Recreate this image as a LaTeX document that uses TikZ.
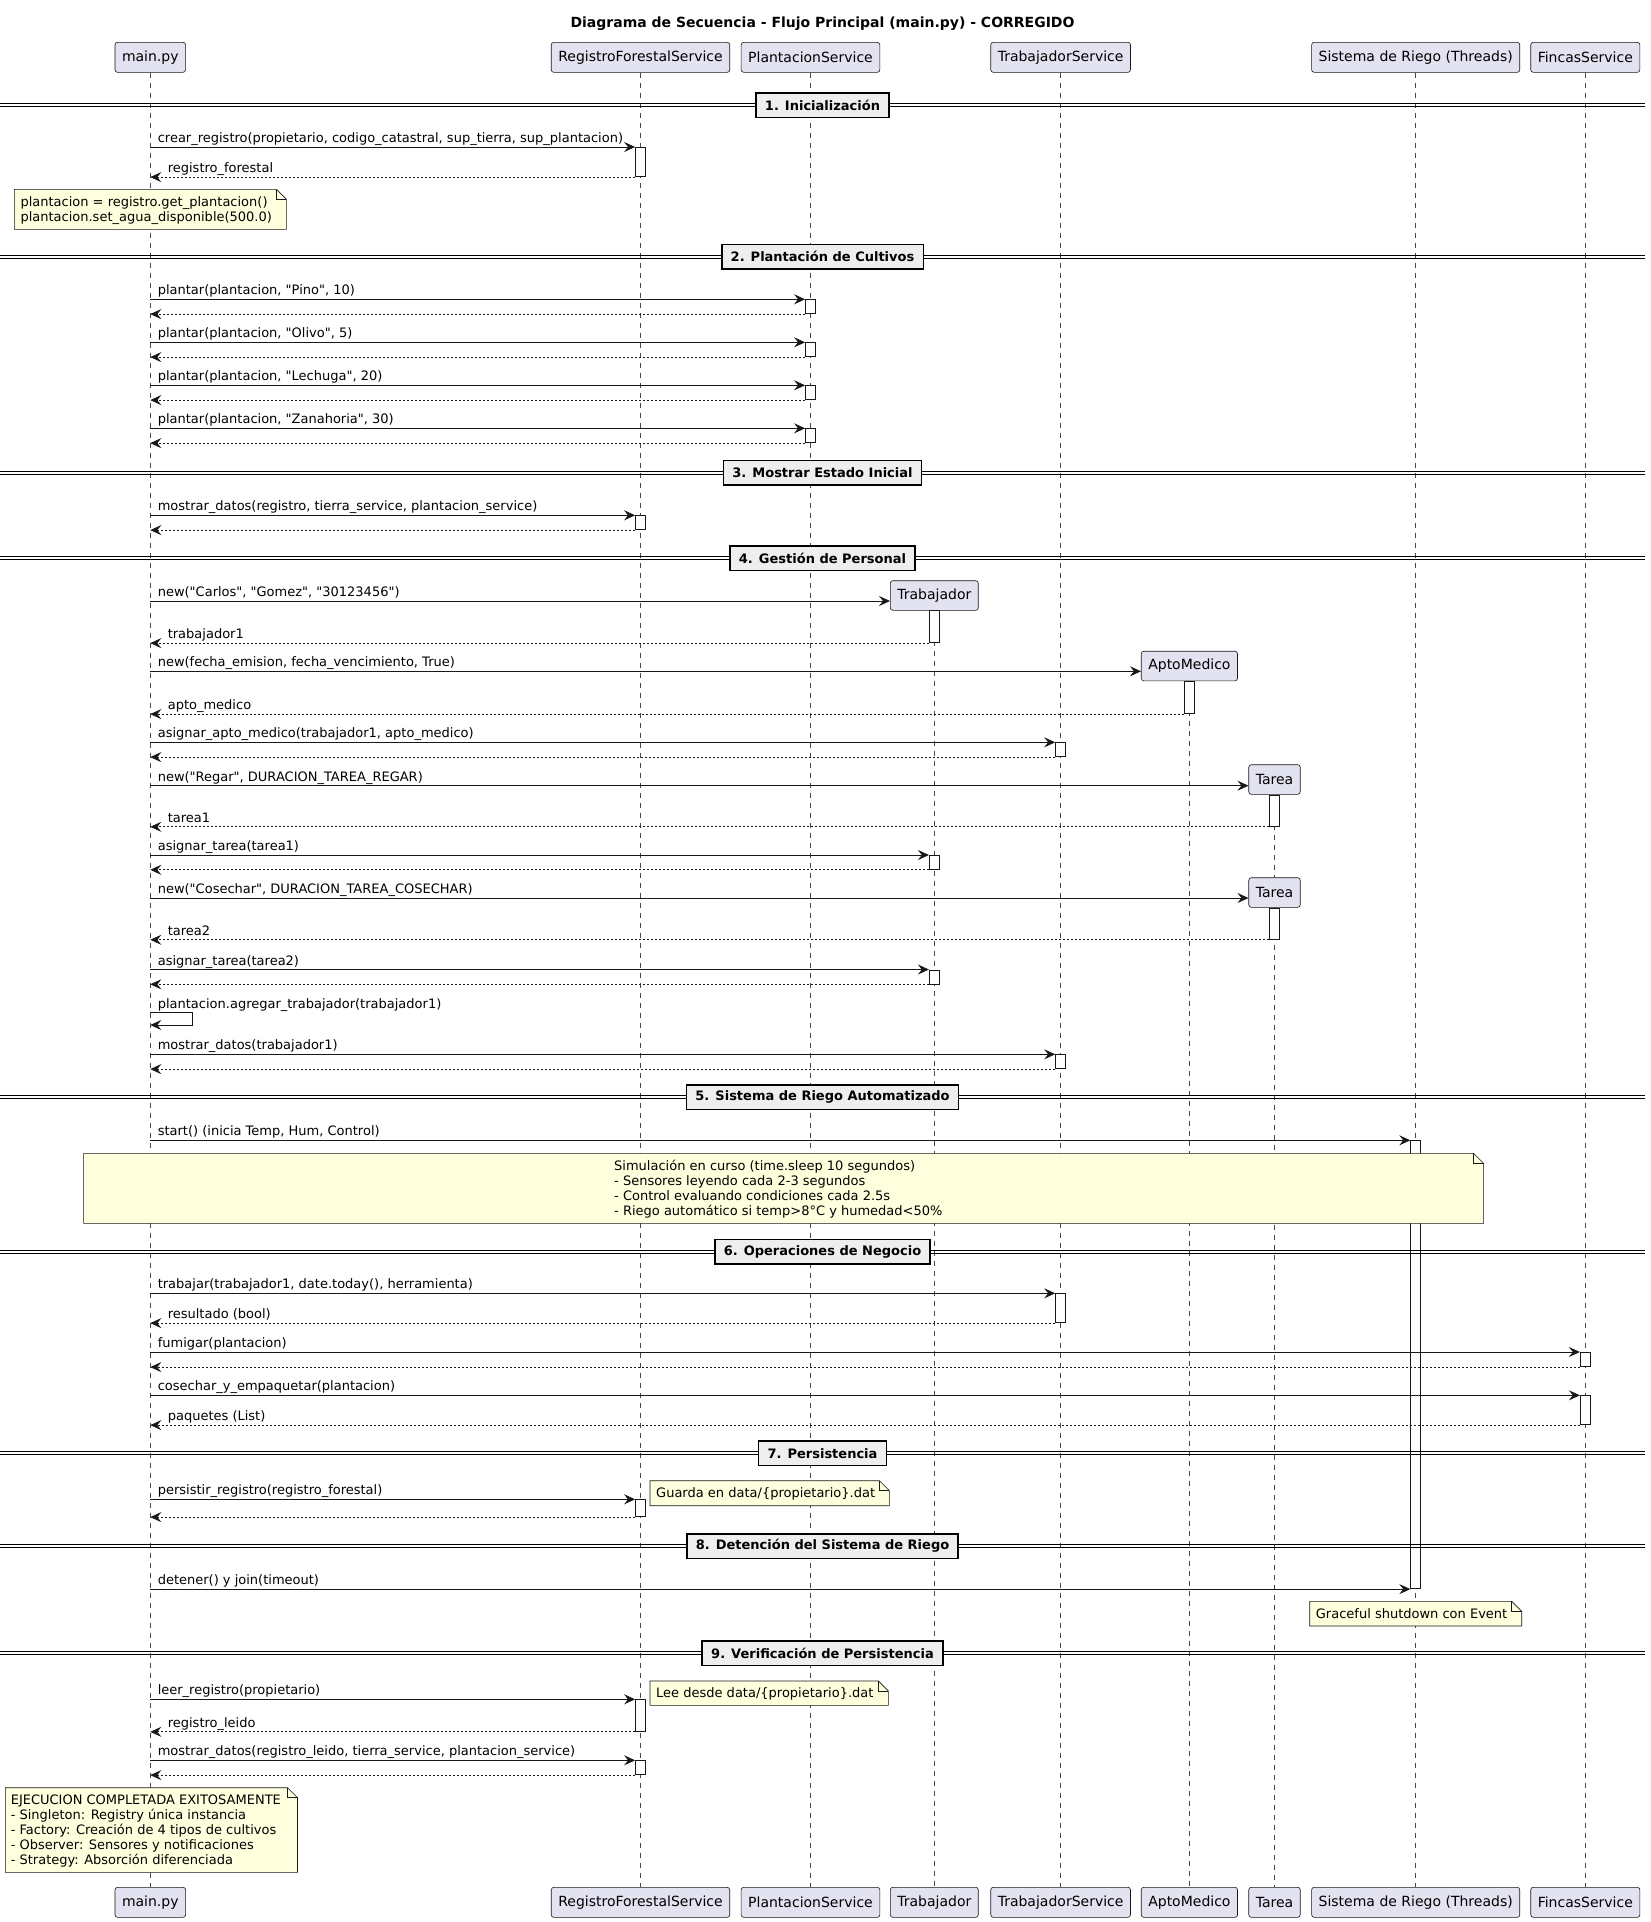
\documentclass[tikz,border=0pt]{standalone}
\usepackage{fontspec}
\setmainfont{DejaVu Sans}[Ligatures=TeXOff]
\usetikzlibrary{arrows.meta}
\definecolor{cdark}{HTML}{181818}
\definecolor{partfill}{HTML}{E2E2F0}
\definecolor{notefill}{HTML}{FEFFDD}
\definecolor{sepfill}{HTML}{EEEEEE}
\tikzset{
  part/.style={draw=cdark, fill=partfill, rounded corners=2.5pt, line width=0.6pt, minimum height=30pt, inner xsep=7pt, inner ysep=0pt, font=\fontsize{14}{16}\selectfont},
  life/.style={draw=cdark!80, line width=0.5pt, dash pattern=on 5pt off 5pt},
  actv/.style={draw=cdark, fill=white, line width=0.8pt, minimum width=10pt, inner sep=0pt, anchor=north},
  call/.style={draw=cdark, line width=1pt, -{Stealth[length=11pt,width=10pt,inset=4pt,line width=0.8pt]}},
  ret/.style={call, dash pattern=on 2pt off 2pt},
  lbl/.style={font=\fontsize{13}{15}\selectfont, inner sep=0pt, anchor=base west},
  sepline/.style={draw=black, line width=1pt},
  sepbox/.style={draw=black, line width=1.6pt, fill=sepfill, font=\bfseries\fontsize{13}{15}\selectfont, minimum height=24.6pt, inner xsep=9pt, inner ysep=0pt},
  notest/.style={draw=cdark, fill=notefill, line width=0.6pt},
}
\newcommand\seqsep[3]{%
  \draw[sepline] (0,#2-1.65) -- (1645,#2-1.65);
  \draw[sepline] (0,#2+1.65) -- (1645,#2+1.65);
  \node[sepbox] (#1) at (822.5,#2) {#3};}
\newcommand\actbox[4]{\node[actv, minimum height={(#4-#3)*1pt}] (#1) at (#2,#3) {};}
\newcommand\seqcall[3]{\draw[call] (#2 |- #1.north west) -- node[lbl,pos=0,xshift=7pt,yshift=4.5pt]{#3} (#1.north west);}
\newcommand\seqret[3]{\draw[ret] (#1.south west) -- node[lbl,pos=1,xshift=17pt,yshift=4.5pt]{#3} (#2 |- #1.south west);}
\newcommand\notebox[4]{%
  \filldraw[notest] (#1,#2) -- (#3-10,#2) -- (#3,#2+10) -- (#3,#4) -- (#1,#4) -- cycle;
  \draw[notest, fill=none] (#3-10,#2) -- (#3-10,#2+10) -- (#3,#2+10);}
\begin{document}
\begin{tikzpicture}[x=1pt, y=-1pt]
\useasboundingbox[fill=white] (0,0) rectangle (1651,1922);
% lifeline coordinates
\coordinate (main) at (150.3,0);
\coordinate (rfs) at (640.5,0);
% title
\node[font=\bfseries\fontsize{14}{16}\selectfont] (title) at (822.5,23.3) {Diagrama de Secuencia - Flujo Principal (main.py) - CORREGIDO};
% participant boxes (top)
\node[part] (tmain) at (150.3,57.3) {main.py};
\node[part] (trfs) at (640.5,57.3) {RegistroForestalService};
\node[part] (tps) at (810.5,57.3) {PlantacionService};
\node[part] (tts) at (1060.6,57.3) {TrabajadorService};
\node[part] (triego) at (1415.7,57.3) {Sistema de Riego (Threads)};
\node[part] (tfin) at (1585.3,57.3) {FincasService};
% participant boxes (bottom)
\node[part] (bmain) at (150.3,1902.3) {main.py};
\node[part] (brfs) at (640.5,1902.3) {RegistroForestalService};
\node[part] (bps) at (810.5,1902.3) {PlantacionService};
\node[part] (btrab) at (934.3,1902.3) {Trabajador};
\node[part] (bts) at (1060.6,1902.3) {TrabajadorService};
\node[part] (bapto) at (1189.4,1902.3) {AptoMedico};
\node[part] (btarea) at (1274.5,1902.3) {Tarea};
\node[part] (briego) at (1415.7,1902.3) {Sistema de Riego (Threads)};
\node[part] (bfin) at (1585.3,1902.3) {FincasService};
% created participants
\node[part, minimum height=29.6pt] (ctrab) at (934.3,595.5) {Trabajador};
\node[part, minimum height=29.6pt] (capto) at (1189.4,666) {AptoMedico};
\node[part, minimum height=29.6pt] (ctarea1) at (1274.5,779.5) {Tarea};
% lifelines
\draw[life] (tmain.south) -- (bmain.north);
\draw[life] (trfs.south) -- (brfs.north);
\draw[life] (tps.south) -- (bps.north);
\draw[life] (ctrab.south) -- (btrab.north);
\draw[life] (tts.south) -- (bts.north);
\draw[life] (capto.south) -- (bapto.north);
\draw[life] (ctarea1.south) -- (btarea.north);
\draw[life] (triego.south) -- (briego.north);
\draw[life] (tfin.south) -- (bfin.north);
\node[part, minimum height=29.6pt] (ctarea2) at (1274.5,892.5) {Tarea};
% activations
\actbox{aRFS1}{640.5}{147}{176.3}
\actbox{aPS1}{810.5}{299.3}{313.3}
\actbox{aPS2}{810.5}{342.3}{356.3}
\actbox{aPS3}{810.5}{385.3}{399.3}
\actbox{aPS4}{810.5}{428.3}{442.3}
\actbox{aRFS2}{640.5}{515.3}{529.3}
\actbox{aTrab1}{934.3}{610.3}{642.3}
\actbox{aApto1}{1189.4}{681.3}{713.3}
\actbox{aTS1}{1060.6}{742.3}{756.3}
\actbox{aTarea1}{1274.5}{794.7}{826}
\actbox{aTrab2}{934.3}{855}{869}
\actbox{aTarea2}{1274.5}{907.5}{939}
\actbox{aTrab3}{934.3}{969.5}{983.5}
\actbox{aTS2}{1060.6}{1054.3}{1068.3}
\actbox{aRiego}{1415.7}{1140.3}{1588.3}
\actbox{aTS3}{1060.6}{1293.3}{1322.3}
\actbox{aF1}{1585.3}{1352}{1366.3}
\actbox{aF2}{1585.3}{1395.3}{1424.3}
\actbox{aRFS3}{640.5}{1499.3}{1516.3}
\actbox{aRFS4}{640.5}{1699.3}{1731}
\actbox{aRFS5}{640.5}{1760.3}{1774.3}
% separators
\seqsep{s1}{105.3}{1. Inicialización}
\seqsep{s2}{256.7}{2. Plantación de Cultivos}
\seqsep{s3}{472.7}{3. Mostrar Estado Inicial}
\seqsep{s4}{558.3}{4. Gestión de Personal}
\seqsep{s5}{1097.3}{5. Sistema de Riego Automatizado}
\seqsep{s6}{1251.7}{6. Operaciones de Negocio}
\seqsep{s7}{1453.3}{7. Persistencia}
\seqsep{s8}{1546}{8. Detención del Sistema de Riego}
\seqsep{s9}{1653.3}{9. Verificación de Persistencia}
% notes
\notebox{14.3}{189.3}{286.4}{229.3}
\node[lbl] (n1a) at (20.3,206.5) {plantacion = registro.get\_plantacion()};
\node[lbl] (n1b) at (20.3,221.5) {plantacion.set\_agua\_disponible(500.0)};
\notebox{83.6}{1153.3}{1483.6}{1223.3}
\node[lbl] (n2a) at (614,1170.9) {Simulación en curso (time.sleep 10 segundos)};
\node[lbl] (n2b) at (614,1185.9) {- Sensores leyendo cada 2-3 segundos};
\node[lbl] (n2c) at (614,1200.9) {- Control evaluando condiciones cada 2.5s};
\node[lbl] (n2d) at (614,1215.9) {- Riego automático si temp>8°C y humedad<50\%};
\notebox{650}{1480.7}{889.4}{1505.7}
\node[lbl] (n3a) at (656,1497.5) {Guarda en data/\{propietario\}.dat};
\notebox{1309.7}{1601.3}{1521.7}{1626}
\node[lbl] (n4a) at (1315.7,1618.2) {Graceful shutdown con Event};
\notebox{650}{1681}{888.4}{1705.3}
\node[lbl] (n5a) at (656,1697.4) {Lee desde data/\{propietario\}.dat};
\notebox{5.3}{1787.7}{297.5}{1872.3}
\node[lbl] (n6a) at (10.6,1804.9) {EJECUCION COMPLETADA EXITOSAMENTE};
\node[lbl] (n6b) at (10.6,1819.9) {- Singleton: Registry única instancia};
\node[lbl] (n6c) at (10.6,1834.9) {- Factory: Creación de 4 tipos de cultivos};
\node[lbl] (n6d) at (10.6,1849.9) {- Observer: Sensores y notificaciones};
\node[lbl] (n6e) at (10.6,1864.9) {- Strategy: Absorción diferenciada};
% messages
\seqcall{aRFS1}{main}{crear\_registro(propietario, codigo\_catastral, sup\_tierra, sup\_plantacion)}
\seqret{aRFS1}{main}{registro\_forestal}
\seqcall{aPS1}{main}{plantar(plantacion, "Pino", 10)}
\seqret{aPS1}{main}{}
\seqcall{aPS2}{main}{plantar(plantacion, "Olivo", 5)}
\seqret{aPS2}{main}{}
\seqcall{aPS3}{main}{plantar(plantacion, "Lechuga", 20)}
\seqret{aPS3}{main}{}
\seqcall{aPS4}{main}{plantar(plantacion, "Zanahoria", 30)}
\seqret{aPS4}{main}{}
\seqcall{aRFS2}{main}{mostrar\_datos(registro, tierra\_service, plantacion\_service)}
\seqret{aRFS2}{main}{}
\draw[call] (main |- 0,601) -- node[lbl,pos=0,xshift=7pt,yshift=4.5pt]{new("Carlos", "Gomez", "30123456")} ([yshift=-5.5pt]ctrab.west);
\seqret{aTrab1}{main}{trabajador1}
\draw[call] (main |- 0,671.3) -- node[lbl,pos=0,xshift=7pt,yshift=4.5pt]{new(fecha\_emision, fecha\_vencimiento, True)} ([yshift=-5.3pt]capto.west);
\seqret{aApto1}{main}{apto\_medico}
\seqcall{aTS1}{main}{asignar\_apto\_medico(trabajador1, apto\_medico)}
\seqret{aTS1}{main}{}
\draw[call] (main |- 0,785.7) -- node[lbl,pos=0,xshift=7pt,yshift=4.5pt]{new("Regar", DURACION\_TAREA\_REGAR)} ([yshift=-6.2pt]ctarea1.west);
\seqret{aTarea1}{main}{tarea1}
\seqcall{aTrab2}{main}{asignar\_tarea(tarea1)}
\seqret{aTrab2}{main}{}
\draw[call] (main |- 0,898) -- node[lbl,pos=0,xshift=7pt,yshift=4.5pt]{new("Cosechar", DURACION\_TAREA\_COSECHAR)} ([yshift=-5.5pt]ctarea2.west);
\seqret{aTarea2}{main}{tarea2}
\seqcall{aTrab3}{main}{asignar\_tarea(tarea2)}
\seqret{aTrab3}{main}{}
\coordinate (self1) at (192.7,1012.7);
\coordinate (self2) at (192.7,1025);
\draw[call] (main |- self1) -- node[lbl,pos=0,xshift=7pt,yshift=4.5pt]{plantacion.agregar\_trabajador(trabajador1)} (self1) -- (self2) -- (main |- self2);
\seqcall{aTS2}{main}{mostrar\_datos(trabajador1)}
\seqret{aTS2}{main}{}
\seqcall{aRiego}{main}{start() (inicia Temp, Hum, Control)}
\seqcall{aTS3}{main}{trabajar(trabajador1, date.today(), herramienta)}
\seqret{aTS3}{main}{resultado (bool)}
\seqcall{aF1}{main}{fumigar(plantacion)}
\seqret{aF1}{main}{}
\seqcall{aF2}{main}{cosechar\_y\_empaquetar(plantacion)}
\seqret{aF2}{main}{paquetes (List)}
\seqcall{aRFS3}{main}{persistir\_registro(registro\_forestal)}
\seqret{aRFS3}{main}{}
\draw[call] (main |- aRiego.south west) -- node[lbl,pos=0,xshift=7pt,yshift=4.5pt]{detener() y join(timeout)} (aRiego.south west);
\seqcall{aRFS4}{main}{leer\_registro(propietario)}
\seqret{aRFS4}{main}{registro\_leido}
\seqcall{aRFS5}{main}{mostrar\_datos(registro\_leido, tierra\_service, plantacion\_service)}
\seqret{aRFS5}{main}{}
\end{tikzpicture}
\end{document}
